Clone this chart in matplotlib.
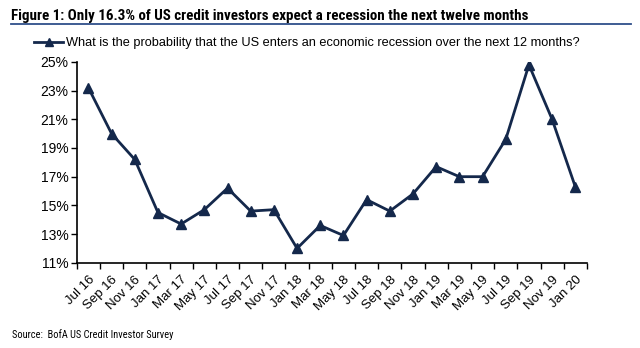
import matplotlib
matplotlib.use("Agg")
import matplotlib.pyplot as plt
from matplotlib.lines import Line2D

months = ["Jul 16", "Sep 16", "Nov 16", "Jan 17", "Mar 17", "May 17", "Jul 17",
          "Sep 17", "Nov 17", "Jan 18", "Mar 18", "May 18", "Jul 18", "Sep 18",
          "Nov 18", "Jan 19", "Mar 19", "May 19", "Jul 19", "Sep 19", "Nov 19",
          "Jan 20"]
recession_prob = [23.2, 20.0, 18.2, 14.5, 13.7, 14.7, 16.2, 14.6, 14.7, 12.0,
                  13.6, 12.9, 15.4, 14.6, 15.8, 17.7, 17.0, 17.0, 19.6, 24.8,
                  21.0, 16.3]
y_ticks = [11, 13, 15, 17, 19, 21, 23, 25]

navy = "#14284b"
narrow = ["Roboto Condensed", "DejaVu Sans"]
plt.rcParams["font.family"] = ["Liberation Sans", "DejaVu Sans"]

fig = plt.figure(figsize=(6.4, 3.48), dpi=100)
ax = fig.add_axes([0.120, 0.245, 0.797, 0.577])

x = list(range(len(months)))
ax.plot(x, recession_prob, color=navy, lw=2, marker="^", ms=7,
        markerfacecolor=navy, markeredgecolor=navy)

ax.set_xlim(-0.5, len(months) - 0.5)
ax.set_ylim(11, 25)
ax.set_yticks(y_ticks)
ax.set_yticklabels([f"{v}%" for v in y_ticks], fontsize=10)
ax.set_xticks(x)
ax.set_xticklabels(months, rotation=45, ha="right", rotation_mode="anchor",
                   fontsize=9.5)
ax.tick_params(axis="x", length=0, pad=8)
# ticks sit between the months
ax.set_xticks([i - 0.5 for i in range(len(months) + 1)], minor=True)
ax.tick_params(axis="x", which="minor", length=4, width=1, direction="out")
ax.tick_params(axis="y", length=4, width=1, direction="out", pad=2)
for side in ["top", "right"]:
    ax.spines[side].set_visible(False)
for side in ["left", "bottom"]:
    ax.spines[side].set_linewidth(1.2)

# title with rule underneath
fig.text(0.017, 0.942, "Figure 1: Only 16.3% of US credit investors expect a recession the next twelve months",
         fontsize=10.8, fontweight="bold", family=narrow, va="baseline")
fig.add_artist(Line2D([0.017, 0.986], [0.932, 0.932], color="#2f4f8a", lw=1.3))

handle = Line2D([], [], color=navy, lw=2, marker="^", ms=6)
fig.legend([handle], ["What is the probability that the US enters an economic recession over the next 12 months?"],
           loc="center left", bbox_to_anchor=(0.035, 0.876), frameon=False,
           fontsize=9.2, handlelength=2.3, handletextpad=0.25)

fig.text(0.018, 0.03, "Source:  BofA US Credit Investor Survey", fontsize=7.5,
         family=narrow)

fig.savefig("out.png", dpi=100)
